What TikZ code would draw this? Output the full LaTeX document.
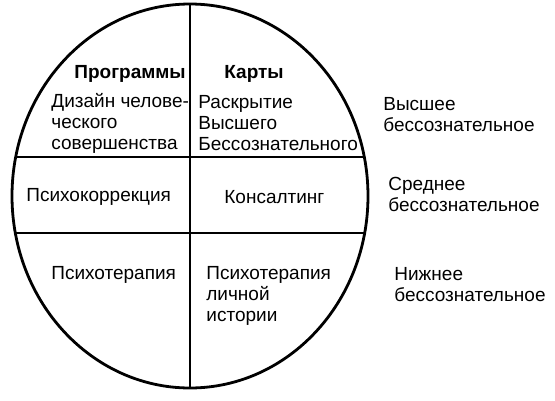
\documentclass[tikz,border=0pt]{standalone}
\usepackage{fontspec}
\setmainfont{Liberation Sans}
\usetikzlibrary{positioning}

\begin{document}
\begin{tikzpicture}[x=1pt, y=-1pt, line width=2.8pt,
    every node/.style={inner sep=0pt, anchor=base west, align=left,
      font=\fontsize{19}{20.8}\selectfont},
    head/.style={font=\fontsize{19}{20.8}\selectfont\bfseries}]
  \useasboundingbox (0,0) rectangle (555,400);

  % circle with its sectors
  \begin{scope}
    \clip (190,196) ellipse [x radius=178, y radius=192];
    \draw (190,0) -- (190,400);
    \draw (0,157) -- (380,157);
    \draw (0,233) -- (380,233);
  \end{scope}
  \draw (190,196) ellipse [x radius=178, y radius=192];

  % multi-line texts sit on the baseline of their last line
  \node[head] (progr) at (73,78) {Программы};
  \node[head] (karty) at (223,78) {Карты};
  \node (dizajn) at (50,149.5) {Дизайн челове-\\ческого\\совершенства};
  \node (raskr) at (197,150.5) {Раскрытие\\Высшего\\Бессознательного};
  \node (psikor) at (25,201) {Психокоррекция};
  \node (konsalt) at (223,203) {Консалтинг};
  \node (psiter) at (50,279) {Психотерапия};
  \node (psilich) at (205,321) {Психотерапия\\личной\\истории};

  \node (vyssh) at (382,131) {Высшее\\бессознательное};
  \node (sredn) at (387,211) {Среднее\\бессознательное};
  \node (nizhn) at (393,301) {Нижнее\\бессознательное};
\end{tikzpicture}
\end{document}
